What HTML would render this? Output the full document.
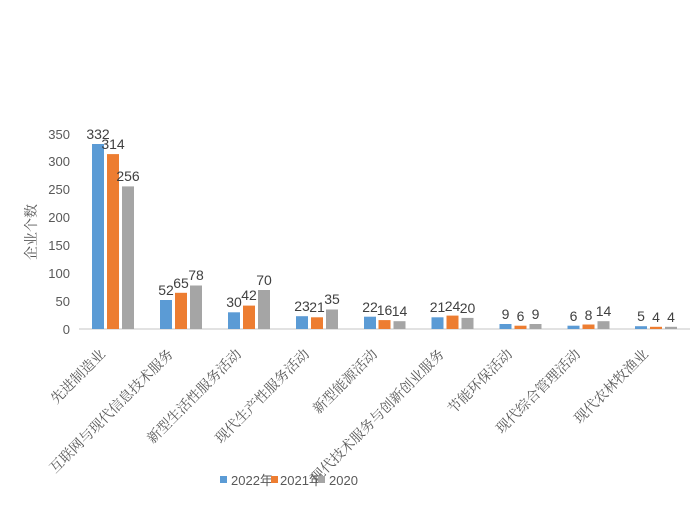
<!DOCTYPE html><html><head><meta charset="utf-8"><style>body{margin:0;background:#fff}svg{display:block}</style></head><body>
<svg width="700" height="513" xmlns="http://www.w3.org/2000/svg" font-family="Liberation Sans, Noto Sans CJK SC, sans-serif">
<rect width="700" height="513" fill="#fff"/>
<g font-size="13" fill="#595959" text-anchor="end">
<text x="70" y="334">0</text><text x="70" y="306">50</text><text x="70" y="278">100</text><text x="70" y="250">150</text><text x="70" y="222">200</text><text x="70" y="194">250</text><text x="70" y="166">300</text><text x="70" y="139">350</text>
</g>
<text transform="translate(36,232) rotate(-90)" text-anchor="middle" font-size="14" fill="#595959" font-family="Noto Serif CJK SC, serif">企业个数</text>
<line x1="79" y1="329" x2="690" y2="329" stroke="#d9d9d9" stroke-width="1.5"/>
<g fill="#5b9bd5">
<rect x="92" y="144" width="12" height="185"/><rect x="160" y="300" width="12" height="29"/><rect x="228" y="312.3" width="12" height="16.7"/><rect x="296" y="316.2" width="12" height="12.8"/><rect x="364" y="316.7" width="12" height="12.3"/><rect x="431.5" y="317.3" width="12" height="11.7"/><rect x="499.5" y="324" width="12" height="5"/><rect x="567.5" y="325.7" width="12" height="3.3"/><rect x="635" y="326.2" width="12" height="2.8"/>
</g>
<g fill="#ed7d31">
<rect x="107" y="154.1" width="12" height="174.9"/><rect x="175" y="292.8" width="12" height="36.2"/><rect x="243" y="305.6" width="12" height="23.4"/><rect x="311" y="317.3" width="12" height="11.7"/><rect x="378.5" y="320.1" width="12" height="8.9"/><rect x="446.5" y="315.6" width="12" height="13.4"/><rect x="514.5" y="325.7" width="12" height="3.3"/><rect x="582.5" y="324.5" width="12" height="4.5"/><rect x="650" y="326.8" width="12" height="2.2"/>
</g>
<g fill="#a5a5a5">
<rect x="122" y="186.4" width="12" height="142.6"/><rect x="190" y="285.5" width="12" height="43.5"/><rect x="258" y="290" width="12" height="39"/><rect x="326" y="309.5" width="12" height="19.5"/><rect x="393.5" y="321.2" width="12" height="7.8"/><rect x="461.5" y="317.9" width="12" height="11.1"/><rect x="529.5" y="324" width="12" height="5"/><rect x="597.5" y="321.2" width="12" height="7.8"/><rect x="665" y="326.8" width="12" height="2.2"/>
</g>
<g font-size="14" fill="#404040" text-anchor="middle">
<text x="98" y="139">332</text><text x="113" y="149">314</text><text x="128" y="181">256</text>
<text x="166" y="295">52</text><text x="181" y="288">65</text><text x="196" y="280">78</text>
<text x="234" y="307">30</text><text x="249" y="300">42</text><text x="264" y="285">70</text>
<text x="302" y="311">23</text><text x="317" y="312">21</text><text x="332" y="304">35</text>
<text x="370" y="312">22</text><text x="384.5" y="315">16</text><text x="399.5" y="316">14</text>
<text x="437.5" y="312">21</text><text x="452.5" y="311">24</text><text x="467.5" y="313">20</text>
<text x="505.5" y="319">9</text><text x="520.5" y="321">6</text><text x="535.5" y="319">9</text>
<text x="573.5" y="321">6</text><text x="588.5" y="320">8</text><text x="603.5" y="316">14</text>
<text x="641" y="321">5</text><text x="656" y="322">4</text><text x="671" y="322">4</text>
</g>
<g font-size="14" fill="#595959" font-family="Noto Serif CJK SC, serif" text-anchor="end">
<text transform="translate(106,355) rotate(-45)">先进制造业</text>
<text transform="translate(174,355) rotate(-45)">互联网与现代信息技术服务</text>
<text transform="translate(242,355) rotate(-45)">新型生活性服务活动</text>
<text transform="translate(310,355) rotate(-45)">现代生产性服务活动</text>
<text transform="translate(378,355) rotate(-45)">新型能源活动</text>
<text transform="translate(445,355) rotate(-45)">现代技术服务与创新创业服务</text>
<text transform="translate(513,355) rotate(-45)">节能环保活动</text>
<text transform="translate(581,355) rotate(-45)">现代综合管理活动</text>
<text transform="translate(649,355) rotate(-45)">现代农林牧渔业</text>
</g>
<g font-size="13" fill="#595959">
<rect x="220" y="476" width="7" height="7" fill="#5b9bd5"/><text x="231" y="485">2022年</text>
<rect x="271" y="476" width="7" height="7" fill="#ed7d31"/><text x="280" y="485">2021年</text>
<rect x="318" y="476" width="7" height="7" fill="#a5a5a5"/><text x="329" y="485">2020</text>
</g>
</svg></body></html>
